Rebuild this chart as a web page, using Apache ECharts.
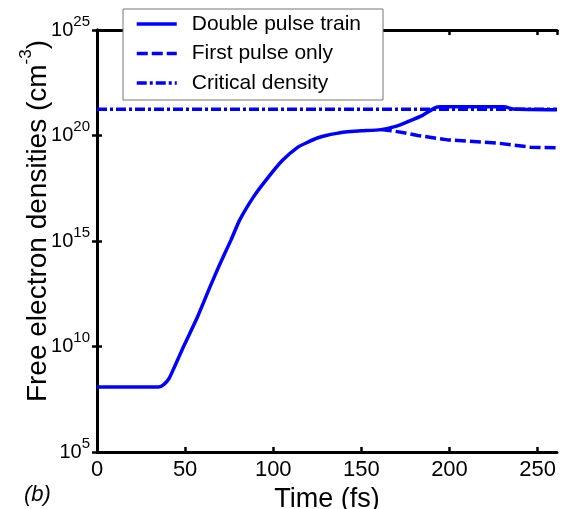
<!DOCTYPE html>
<html>
<head>
<meta charset="utf-8">
<script src="https://cdn.jsdelivr.net/npm/echarts@6/dist/echarts.min.js"></script>
<style>
  html, body { margin: 0; padding: 0; background: #fff; }
  #main { width: 565px; height: 509px; }
</style>
</head>
<body>
<div id="main"></div>
<script>
// time (fs) and densities (cm^-3)
var doubleTime = [0, 35, 38, 41, 44, 49, 57, 64, 70, 76, 81, 89, 96, 105, 114, 120, 125, 130, 136, 142, 150, 161, 170, 176, 185, 192, 195, 231, 236, 261];
var doubleDens = [1.2e8, 1.2e8, 1.6e8, 3.2e8, 1.1e9, 9.5e9, 2.5e11, 6.3e12, 9.1e13, 1.1e15, 1.0e16, 1.3e17, 7.9e17, 6.3e18, 2.8e19, 5.0e19, 7.6e19, 1.0e20, 1.26e20, 1.5e20, 1.66e20, 1.9e20, 2.8e20, 4.4e20, 9.3e20, 2.1e21, 2.3e21, 2.3e21, 1.8e21, 1.66e21];

var firstTime = [161, 168, 175, 182, 199, 227, 246, 261];
var firstDens = [1.9e20, 1.65e20, 1.3e20, 1.0e20, 6.2e19, 4.4e19, 2.8e19, 2.6e19];

var critTime = [0, 261];
var critDens = [1.74e21, 1.74e21];

var seriesNames = ['Double pulse train', 'First pulse only', 'Critical density'];

function pairs(xs, ys) {
    var out = [];
    for (var i = 0; i < xs.length; i++) out.push([xs[i], ys[i]]);
    return out;
}

var blue = '#0000ff';
var chart = echarts.init(document.getElementById('main'));

var supRich = {
    b: { fontSize: 20, fontFamily: 'Liberation Sans', color: '#000', lineHeight: 32 },
    s: { fontSize: 15, fontFamily: 'Liberation Sans', color: '#000', verticalAlign: 'top', lineHeight: 15 }
};

var option = {
    animation: false,
    title: {
        text: '(b)',
        left: 24,
        top: 484,
        textStyle: { fontSize: 22, fontStyle: 'italic', fontWeight: 'normal', fontFamily: 'Liberation Sans', color: '#000' },
        padding: 0
    },
    legend: {
        orient: 'vertical',
        left: 123,
        top: 9,
        padding: [3, 22, 5, 12],
        itemWidth: 40,
        itemHeight: 24,
        itemGap: 5.5,
        backgroundColor: '#fff',
        borderColor: '#777',
        borderWidth: 1,
        borderRadius: 0,
        itemStyle: { opacity: 0 },
        lineStyle: { width: 3.5 },
        textStyle: { fontSize: 21, fontFamily: 'Liberation Sans', color: '#000', lineHeight: 24, padding: [0, 0, 0, 10] },
        data: seriesNames
    },
    grid: { left: 97, right: 8, top: 30, bottom: 57, outerBoundsMode: 'none', containLabel: false },
    xAxis: [{
        type: 'value',
        min: 0, max: 261, interval: 50,
        name: 'Time (fs)',
        nameLocation: 'middle',
        nameGap: 32,
        nameTextStyle: { fontSize: 27, fontFamily: 'Liberation Sans', color: '#000' },
        axisLine: { lineStyle: { color: '#000', width: 3 } },
        axisTick: { inside: true, length: 5, lineStyle: { color: '#000', width: 2.5 } },
        axisLabel: { margin: 7, fontSize: 22, fontFamily: 'Liberation Sans', color: '#000' },
        splitLine: { show: false }
    }, {
        type: 'value',
        position: 'top',
        min: 0, max: 261, interval: 50,
        axisLine: { lineStyle: { color: '#000', width: 3 } },
        axisTick: { inside: true, length: 5, lineStyle: { color: '#000', width: 2.5 } },
        axisLabel: { show: false },
        splitLine: { show: false }
    }],
    yAxis: [{
        type: 'log',
        logBase: 10,
        min: 1e5, max: 1e25, interval: 5,
        name: '{t|Free electron densities (cm}{s|-3}{t|)}',
        nameLocation: 'middle',
        nameGap: 39,
        nameMoveOverlap: false,
        nameTextStyle: {
            padding: [0, 0, 0, 40],
            rich: {
                t: { fontSize: 28, fontFamily: 'Liberation Sans', color: '#000', lineHeight: 40 },
                s: { fontSize: 17, fontFamily: 'Liberation Sans', color: '#000', verticalAlign: 'top', lineHeight: 17 }
            }
        },
        axisLine: { lineStyle: { color: '#000', width: 3 } },
        axisTick: { inside: true, length: 5, lineStyle: { color: '#000', width: 2.5 } },
        axisLabel: {
            margin: 7,
            formatter: function (v) {
                return '{b|10}{s|' + Math.round(Math.log10(v)) + '}';
            },
            rich: supRich
        },
        splitLine: { show: false }
    }, {
        type: 'log',
        logBase: 10,
        position: 'right',
        min: 1e5, max: 1e25, interval: 5,
        axisLine: { lineStyle: { color: '#000', width: 3 } },
        axisTick: { inside: true, length: 5, lineStyle: { color: '#000', width: 2.5 } },
        axisLabel: { show: false },
        splitLine: { show: false }
    }],
    series: [{
        name: seriesNames[2],
        type: 'line',
        symbol: 'none',
        data: pairs(critTime, critDens),
        lineStyle: { color: blue, width: 3.5, type: [10, 3, 3, 3] },
        itemStyle: { color: blue }
    }, {
        name: seriesNames[1],
        type: 'line',
        symbol: 'none',
        data: pairs(firstTime, firstDens),
        lineStyle: { color: blue, width: 3.5, type: [11, 4] },
        itemStyle: { color: blue }
    }, {
        name: seriesNames[0],
        type: 'line',
        symbol: 'none',
        smooth: 0.2,
        data: pairs(doubleTime, doubleDens),
        lineStyle: { color: blue, width: 3.5 },
        itemStyle: { color: blue }
    }]
};

chart.setOption(option);
</script>
</body>
</html>
